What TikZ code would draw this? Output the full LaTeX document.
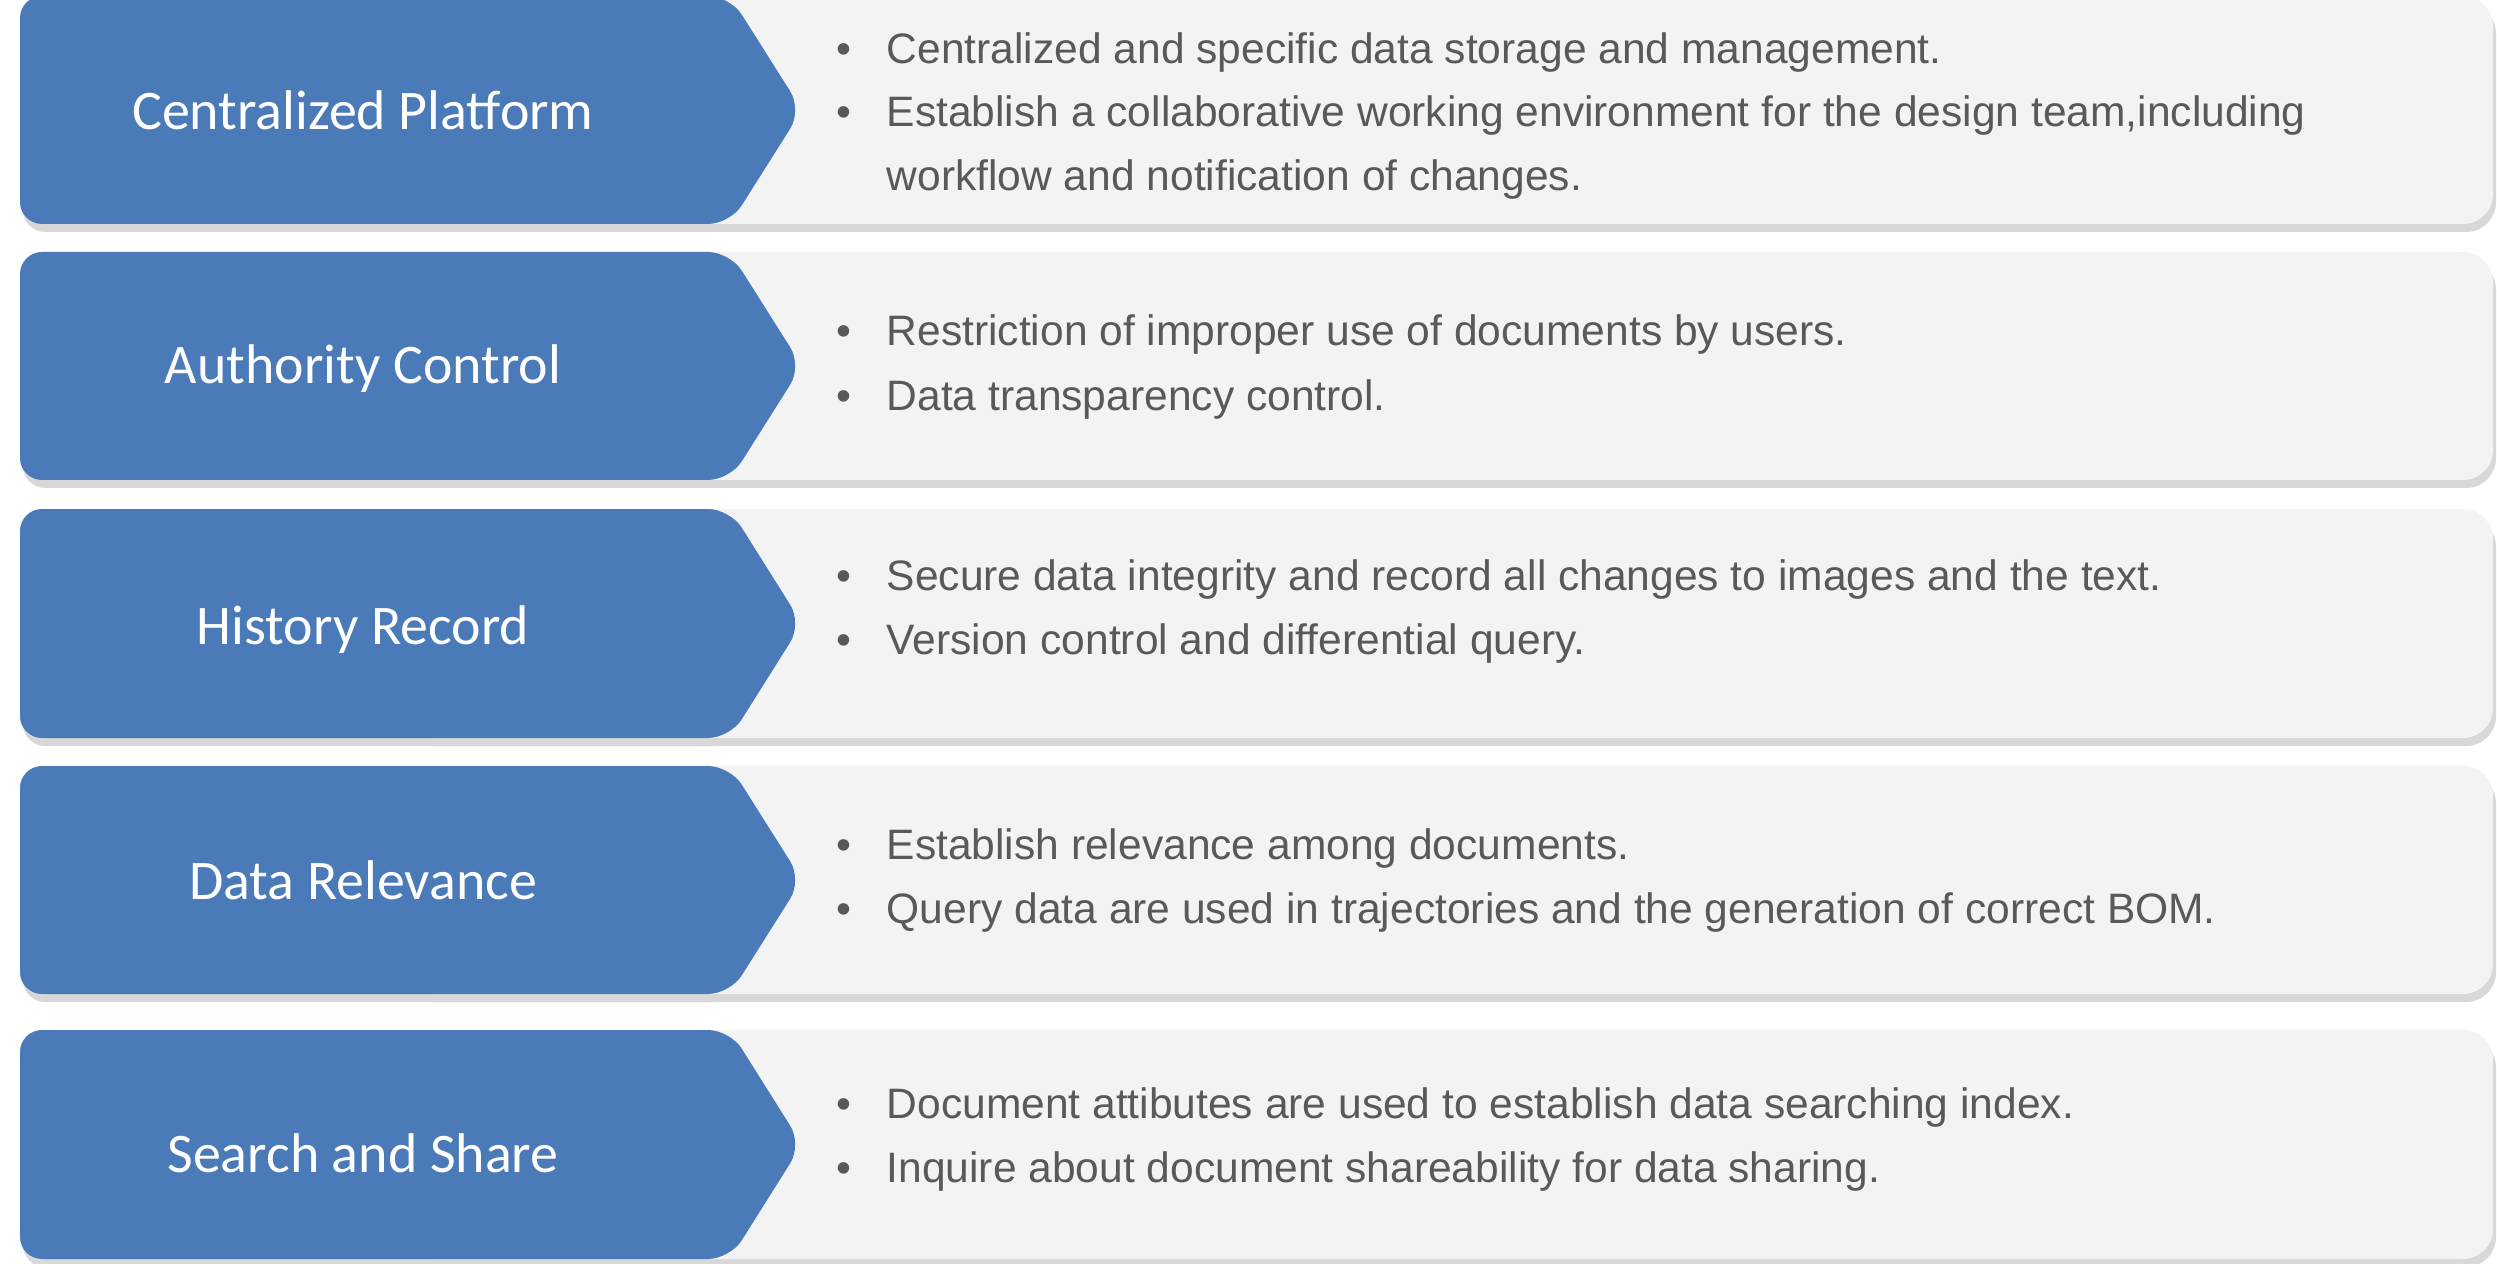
\documentclass[tikz,border=0pt]{standalone}
\usepackage{fontspec}
\setmainfont{Liberation Sans}
\newfontfamily\lblfont{Carlito}
\definecolor{blueC}{HTML}{4A7AB7}
\definecolor{grayC}{HTML}{F3F3F3}
\definecolor{shadowC}{HTML}{D8D8D8}
\definecolor{txtC}{HTML}{595959}
\newcommand\drawrow[2]{%
  \pgfmathsetmacro\rowmid{(#1+#2)/2}%
  \fill[shadowC, rounded corners=0.3cm] (403,#1+8) rectangle (2496,#2+8);
  \fill[shadowC, rounded corners=0.22cm] (23,#1+8) -- (733,#1+8) -- (805,\rowmid+8) -- (733,#2+8) -- (23,#2+8) -- cycle;
  \fill[grayC, rounded corners=0.3cm] (400,#1) rectangle (2493,#2);
  \fill[blueC, rounded corners=0.22cm] (20,#1) -- (730,#1) -- (802,\rowmid) -- (730,#2) -- (20,#2) -- cycle;
}
\begin{document}
\begin{tikzpicture}[x=0.01cm,y=-0.01cm,
  lbl/.style={font=\lblfont\fontsize{15.9}{19}\selectfont, text=white, anchor=base, inner sep=0pt},
  itm/.style={font=\fontsize{12.1}{15}\selectfont, text=txtC, anchor=base west, inner sep=0pt},
  bul/.style={font=\fontsize{12.1}{15}\selectfont, text=txtC, anchor=base, inner sep=0pt}]
\useasboundingbox (0,0) rectangle (2497,1264);
\clip (0,0) rectangle (2497,1264);
\fill[white] (0,0) rectangle (2497,1264);

\drawrow{-4}{224}
\drawrow{252}{480}
\drawrow{509}{738}
\drawrow{766}{994}
\drawrow{1030}{1259}

% labels
\node[lbl] (l1) at (363,130) {Centralized Platform};
\node[lbl] (l2) at (363,384) {Authority Control};
\node[lbl] (l3) at (363,644) {History Record};
\node[lbl] (l4) at (363,899) {Data Relevance};
\node[lbl] (l5) at (363,1172) {Search and Share};

% row 1
\node[bul] (b11) at (844,64) {•};
\node[itm] (t11) at (886,64) {Centralized and specific data storage and management.};
\node[bul] (b12) at (844,127) {•};
\node[itm] (t12) at (886,127) {Establish a collaborative working environment for the design team,including};
\node[itm] (t12b) at (886,191) {workflow and notification of changes.};
% row 2
\node[bul] (b21) at (844,346) {•};
\node[itm] (t21) at (886,346) {Restriction of improper use of documents by users.};
\node[bul] (b22) at (844,410) {•};
\node[itm] (t22) at (886,410) {Data transparency control.};
% row 3
\node[bul] (b31) at (844,590) {•};
\node[itm] (t31) at (886,590) {Secure data integrity and record all changes to images and the text.};
\node[bul] (b32) at (844,654) {•};
\node[itm] (t32) at (886,654) {Version control and differential query.};
% row 4
\node[bul] (b41) at (844,859) {•};
\node[itm] (t41) at (886,859) {Establish relevance among documents.};
\node[bul] (b42) at (844,923) {•};
\node[itm] (t42) at (886,923) {Query data are used in trajectories and the generation of correct BOM.};
% row 5
\node[bul] (b51) at (844,1118) {•};
\node[itm] (t51) at (886,1118) {Document attibutes are used to establish data searching index.};
\node[bul] (b52) at (844,1182) {•};
\node[itm] (t52) at (886,1182) {Inquire about document shareability for data sharing.};
\end{tikzpicture}
\end{document}
